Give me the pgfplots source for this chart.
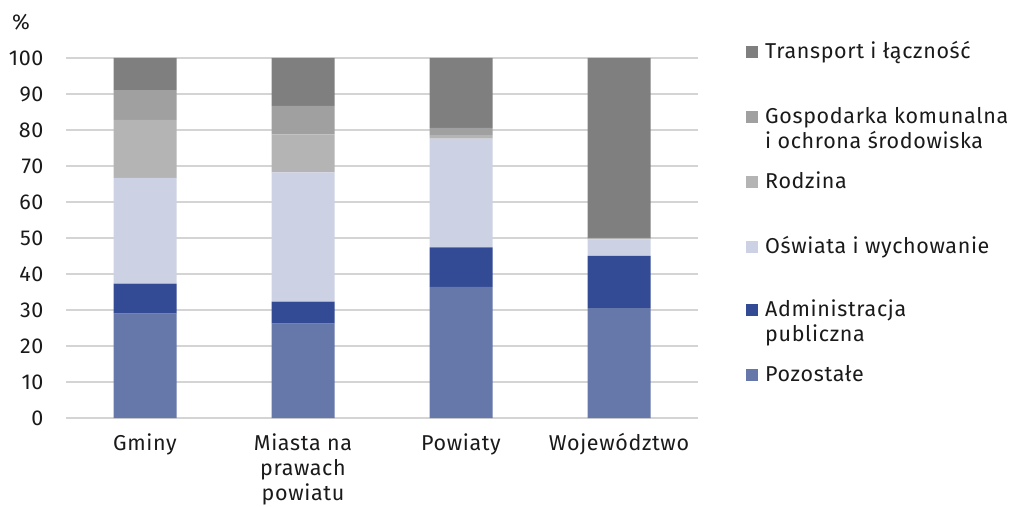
\documentclass[border=0pt]{standalone}
\usepackage{fontspec}
\setmainfont[LetterSpace=3]{Fira Sans}
\usepackage{pgfplots}
\usepackage{pgfplotstable}
\pgfplotsset{compat=1.18}
\definecolor{cPoz}{HTML}{6677AA}
\definecolor{cAdm}{HTML}{334A94}
\definecolor{cOsw}{HTML}{CCD2E4}
\definecolor{cRod}{HTML}{B4B4B4}
\definecolor{cGos}{HTML}{A0A0A0}
\definecolor{cTra}{HTML}{7F7F7F}
\definecolor{txt}{HTML}{1A1A1A}
\pgfplotstableread{
x Poz Adm Osw Rod Gos Tra
0 29.0 8.3 29.4 16.1 8.3 8.9
1 26.2 6.1 35.9 10.6 7.9 13.3
2 36.4 11.0 30.2 1.0 2.0 19.4
3 30.5 14.5 4.6 0.2 0.2 50.0
}\datatable
\begin{document}
\begin{tikzpicture}[font=\fontsize{21.5bp}{25bp}\selectfont, every node/.style={text=txt}]
\begin{axis}[
  at={(66bp,89bp)}, anchor=south west,
  scale only axis, width=632bp, height=360bp,
  ymin=0, ymax=100, xmin=-0.5, xmax=3.5,
  ybar stacked, bar width=63bp,
  axis line style={draw=none},
  ymajorgrids, grid style={color=black!17, line width=1.2bp},
  ytick={0,10,...,100},
  xtick={0,1,2,3},
  xticklabels={Gminy, {Miasta na\\prawach\\powiatu}, Powiaty, Województwo},
  x tick label style={align=center, font=\fontsize{21.5bp}{25bp}\selectfont, yshift=-12bp},
  y tick label style={font=\fontsize{21.5bp}{25bp}\selectfont, xshift=-19bp},
  major tick length=0pt,
  /pgf/number format/assume math mode=true,
  clip=false,
]
\addplot[fill=cPoz, draw=none] table[x=x, y=Poz] {\datatable};
\addplot[fill=cAdm, draw=none] table[x=x, y=Adm] {\datatable};
\addplot[fill=cOsw, draw=none] table[x=x, y=Osw] {\datatable};
\addplot[fill=cRod, draw=none] table[x=x, y=Rod] {\datatable};
\addplot[fill=cGos, draw=none] table[x=x, y=Gos] {\datatable};
\addplot[fill=cTra, draw=none] table[x=x, y=Tra] {\datatable};
\end{axis}
\node[anchor=center] at (21bp,485bp) {\%};
% legend
\def\legsq#1#2{\fill[#1] (746bp,#2bp-6bp) rectangle (758bp,#2bp+6bp);}
\def\legtxt#1#2{\node[anchor=base west, inner sep=0pt] at (765bp,#1bp-7bp) {#2};}
\legsq{cTra}{455.3}\legtxt{455.3}{Transport i łączność}
\legsq{cGos}{390.3}\legtxt{390.3}{Gospodarka komunalna}\legtxt{365.3}{i ochrona środowiska}
\legsq{cRod}{325.3}\legtxt{325.3}{Rodzina}
\legsq{cOsw}{260.3}\legtxt{260.3}{Oświata i wychowanie}
\legsq{cAdm}{197}\legtxt{197}{Administracja}\legtxt{172}{publiczna}
\legsq{cPoz}{132}\legtxt{132}{Pozostałe}
\pgfresetboundingbox
\useasboundingbox (0,0) rectangle (1013bp,507bp);
\end{tikzpicture}
\end{document}
